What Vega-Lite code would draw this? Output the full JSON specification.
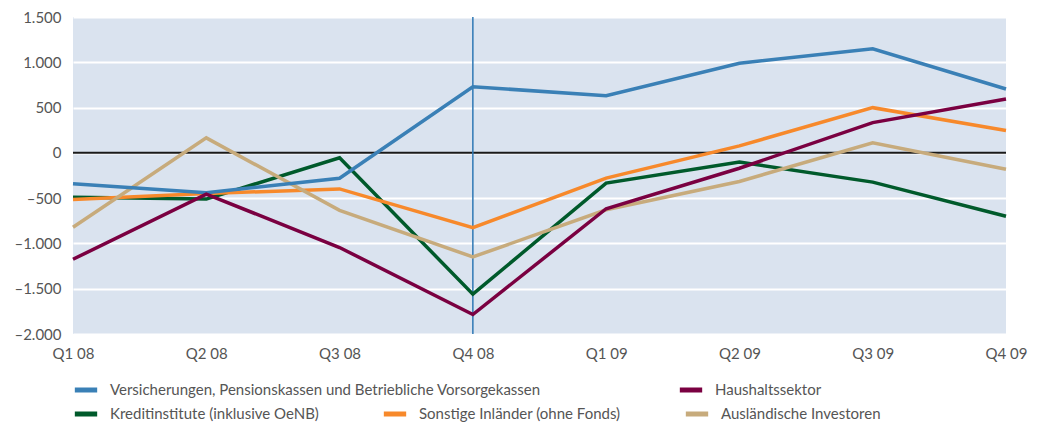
{
  "$schema": "https://vega.github.io/schema/vega-lite/v6.json",
  "width": 933,
  "height": 317,
  "autosize": {"type": "none"},
  "padding": {"left": 73, "top": 17, "right": 35, "bottom": 91},
  "background": "white",
  "config": {
    "view": {"fill": "#dae3ef", "stroke": null},
    "font": "Lato",
    "axis": {"domain": false, "ticks": false, "gridColor": "white", "gridWidth": 2, "gridOpacity": 1, "labelColor": "#555555", "labelFontSize": 15, "title": null}
  },
  "datasets": {
    "main": [
      {"q": "Q1 08", "s": "Versicherungen, Pensionskassen und Betriebliche Vorsorgekassen", "v": -340},
      {"q": "Q2 08", "s": "Versicherungen, Pensionskassen und Betriebliche Vorsorgekassen", "v": -440},
      {"q": "Q3 08", "s": "Versicherungen, Pensionskassen und Betriebliche Vorsorgekassen", "v": -280},
      {"q": "Q4 08", "s": "Versicherungen, Pensionskassen und Betriebliche Vorsorgekassen", "v": 730},
      {"q": "Q1 09", "s": "Versicherungen, Pensionskassen und Betriebliche Vorsorgekassen", "v": 630},
      {"q": "Q2 09", "s": "Versicherungen, Pensionskassen und Betriebliche Vorsorgekassen", "v": 990},
      {"q": "Q3 09", "s": "Versicherungen, Pensionskassen und Betriebliche Vorsorgekassen", "v": 1150},
      {"q": "Q4 09", "s": "Versicherungen, Pensionskassen und Betriebliche Vorsorgekassen", "v": 705},
      {"q": "Q1 08", "s": "Haushaltssektor", "v": -1175},
      {"q": "Q2 08", "s": "Haushaltssektor", "v": -455},
      {"q": "Q3 08", "s": "Haushaltssektor", "v": -1045},
      {"q": "Q4 08", "s": "Haushaltssektor", "v": -1785},
      {"q": "Q1 09", "s": "Haushaltssektor", "v": -617},
      {"q": "Q2 09", "s": "Haushaltssektor", "v": -170},
      {"q": "Q3 09", "s": "Haushaltssektor", "v": 334},
      {"q": "Q4 09", "s": "Haushaltssektor", "v": 595},
      {"q": "Q1 08", "s": "Kreditinstitute (inklusive OeNB)", "v": -490},
      {"q": "Q2 08", "s": "Kreditinstitute (inklusive OeNB)", "v": -510},
      {"q": "Q3 08", "s": "Kreditinstitute (inklusive OeNB)", "v": -55},
      {"q": "Q4 08", "s": "Kreditinstitute (inklusive OeNB)", "v": -1560},
      {"q": "Q1 09", "s": "Kreditinstitute (inklusive OeNB)", "v": -334},
      {"q": "Q2 09", "s": "Kreditinstitute (inklusive OeNB)", "v": -102},
      {"q": "Q3 09", "s": "Kreditinstitute (inklusive OeNB)", "v": -323},
      {"q": "Q4 09", "s": "Kreditinstitute (inklusive OeNB)", "v": -700},
      {"q": "Q1 08", "s": "Sonstige Inländer (ohne Fonds)", "v": -515},
      {"q": "Q2 08", "s": "Sonstige Inländer (ohne Fonds)", "v": -450},
      {"q": "Q3 08", "s": "Sonstige Inländer (ohne Fonds)", "v": -398},
      {"q": "Q4 08", "s": "Sonstige Inländer (ohne Fonds)", "v": -826},
      {"q": "Q1 09", "s": "Sonstige Inländer (ohne Fonds)", "v": -279},
      {"q": "Q2 09", "s": "Sonstige Inländer (ohne Fonds)", "v": 77},
      {"q": "Q3 09", "s": "Sonstige Inländer (ohne Fonds)", "v": 499},
      {"q": "Q4 09", "s": "Sonstige Inländer (ohne Fonds)", "v": 246},
      {"q": "Q1 08", "s": "Ausländische Investoren", "v": -822},
      {"q": "Q2 08", "s": "Ausländische Investoren", "v": 165},
      {"q": "Q3 08", "s": "Ausländische Investoren", "v": -635},
      {"q": "Q4 08", "s": "Ausländische Investoren", "v": -1149},
      {"q": "Q1 09", "s": "Ausländische Investoren", "v": -628},
      {"q": "Q2 09", "s": "Ausländische Investoren", "v": -316},
      {"q": "Q3 09", "s": "Ausländische Investoren", "v": 110},
      {"q": "Q4 09", "s": "Ausländische Investoren", "v": -180}
    ]
  },
  "layer": [
    {
      "data": {"values": [{"v": 0}]},
      "mark": {"type": "rule", "color": "#1a1a1a", "strokeWidth": 2},
      "encoding": {
        "y": {"field": "v", "type": "quantitative", "scale": {"domain": [-2000, 1500], "nice": false}, "axis": {"values": [-2000, -1500, -1000, -500, 0, 500, 1000, 1500], "labelPadding": 12, "labelExpr": "(datum.value < 0 ? '–' : '') + replace(format(abs(datum.value), ','), ',', '.')"}}
      }
    },
    {
      "data": {"values": [{"q": "Q4 08"}]},
      "mark": {"type": "rule", "color": "#2f78b4", "strokeWidth": 1.5},
      "encoding": {
        "x": {"field": "q", "type": "ordinal", "scale": {"type": "point", "padding": 0, "domain": ["Q1 08", "Q2 08", "Q3 08", "Q4 08", "Q1 09", "Q2 09", "Q3 09", "Q4 09"]}, "axis": {"labelAngle": 0, "labelPadding": 12}}
      }
    },
    {
      "data": {"name": "main"},
      "transform": [{"filter": {"field": "s", "oneOf": ["Kreditinstitute (inklusive OeNB)", "Sonstige Inländer (ohne Fonds)", "Ausländische Investoren"]}}],
      "mark": {"type": "line", "strokeWidth": 3.5, "strokeJoin": "miter"},
      "encoding": {
        "x": {"field": "q", "type": "ordinal", "scale": {"type": "point", "padding": 0, "domain": ["Q1 08", "Q2 08", "Q3 08", "Q4 08", "Q1 09", "Q2 09", "Q3 09", "Q4 09"]}, "axis": {"labelAngle": 0, "labelPadding": 12}},
        "y": {"field": "v", "type": "quantitative", "scale": {"domain": [-2000, 1500], "nice": false}, "axis": {"values": [-2000, -1500, -1000, -500, 0, 500, 1000, 1500], "labelPadding": 12, "labelExpr": "(datum.value < 0 ? '–' : '') + replace(format(abs(datum.value), ','), ',', '.')"}},
        "stroke": {"field": "s", "type": "nominal", "scale": {"domain": ["Kreditinstitute (inklusive OeNB)", "Sonstige Inländer (ohne Fonds)", "Ausländische Investoren"], "range": ["#005a2b", "#f7892b", "#c7ab7c"]},
          "legend": {"orient": "none", "legendX": -1, "legendY": 383, "direction": "horizontal", "title": null, "padding": 0, "symbolType": "stroke", "symbolStrokeWidth": 5, "symbolSize": 500, "labelFontSize": 15, "labelColor": "#555555", "labelOffset": 10, "columnPadding": 54, "labelLimit": 600}}
      }
    },
    {
      "data": {"name": "main"},
      "transform": [{"filter": {"field": "s", "oneOf": ["Versicherungen, Pensionskassen und Betriebliche Vorsorgekassen", "Haushaltssektor"]}}],
      "mark": {"type": "line", "strokeWidth": 3.5, "strokeJoin": "miter"},
      "encoding": {
        "x": {"field": "q", "type": "ordinal", "scale": {"type": "point", "padding": 0, "domain": ["Q1 08", "Q2 08", "Q3 08", "Q4 08", "Q1 09", "Q2 09", "Q3 09", "Q4 09"]}, "axis": {"labelAngle": 0, "labelPadding": 12}},
        "y": {"field": "v", "type": "quantitative", "scale": {"domain": [-2000, 1500], "nice": false}, "axis": {"values": [-2000, -1500, -1000, -500, 0, 500, 1000, 1500], "labelPadding": 12, "labelExpr": "(datum.value < 0 ? '–' : '') + replace(format(abs(datum.value), ','), ',', '.')"}},
        "color": {"field": "s", "type": "nominal", "scale": {"domain": ["Versicherungen, Pensionskassen und Betriebliche Vorsorgekassen", "Haushaltssektor"], "range": ["#3a80b6", "#7a0041"]},
          "legend": {"orient": "none", "legendX": -1, "legendY": 359, "direction": "horizontal", "title": null, "padding": 0, "symbolType": "stroke", "symbolStrokeWidth": 5, "symbolSize": 500, "labelFontSize": 15, "labelColor": "#555555", "labelOffset": 10, "columnPadding": 128, "labelLimit": 600}}
      }
    }
  ]
}
